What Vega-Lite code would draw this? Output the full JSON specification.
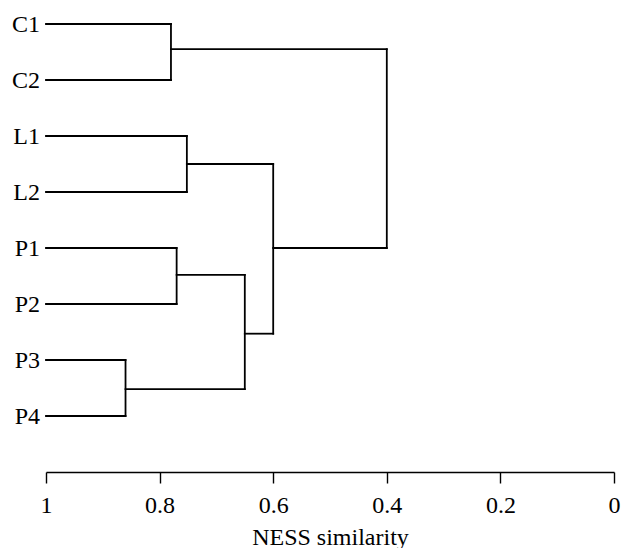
{
  "$schema": "https://vega.github.io/schema/vega-lite/v6.json",
  "autosize": {"type": "none"},
  "padding": {"left": 46, "top": 2, "right": 8, "bottom": 76},
  "width": 568,
  "height": 470,
  "background": "white",
  "config": {"view": {"stroke": null}, "font": "Liberation Serif"},
  "datasets": {
    "segs": [
      {"x": 1, "x2": 0.78, "y": 0, "y2": 0},
      {"x": 1, "x2": 0.78, "y": 1, "y2": 1},
      {"x": 0.78, "x2": 0.78, "y": 0, "y2": 1},
      {"x": 1, "x2": 0.752, "y": 2, "y2": 2},
      {"x": 1, "x2": 0.752, "y": 3, "y2": 3},
      {"x": 0.752, "x2": 0.752, "y": 2, "y2": 3},
      {"x": 1, "x2": 0.77, "y": 4, "y2": 4},
      {"x": 1, "x2": 0.77, "y": 5, "y2": 5},
      {"x": 0.77, "x2": 0.77, "y": 4, "y2": 5},
      {"x": 1, "x2": 0.86, "y": 6, "y2": 6},
      {"x": 1, "x2": 0.86, "y": 7, "y2": 7},
      {"x": 0.86, "x2": 0.86, "y": 6, "y2": 7},
      {"x": 0.77, "x2": 0.65, "y": 4.48, "y2": 4.48},
      {"x": 0.86, "x2": 0.65, "y": 6.52, "y2": 6.52},
      {"x": 0.65, "x2": 0.65, "y": 4.48, "y2": 6.52},
      {"x": 0.65, "x2": 0.6, "y": 5.53, "y2": 5.53},
      {"x": 0.752, "x2": 0.6, "y": 2.5, "y2": 2.5},
      {"x": 0.6, "x2": 0.6, "y": 2.5, "y2": 5.53},
      {"x": 0.6, "x2": 0.4, "y": 4, "y2": 4},
      {"x": 0.78, "x2": 0.4, "y": 0.45, "y2": 0.45},
      {"x": 0.4, "x2": 0.4, "y": 0.45, "y2": 4}
    ],
    "leaves": [
      {"name": "C1", "x": 1, "y": 0},
      {"name": "C2", "x": 1, "y": 1},
      {"name": "L1", "x": 1, "y": 2},
      {"name": "L2", "x": 1, "y": 3},
      {"name": "P1", "x": 1, "y": 4},
      {"name": "P2", "x": 1, "y": 5},
      {"name": "P3", "x": 1, "y": 6},
      {"name": "P4", "x": 1, "y": 7}
    ]
  },
  "layer": [
    {
      "data": {"name": "segs"},
      "mark": {"type": "rule", "color": "black", "strokeWidth": 1.8, "strokeCap": "square"},
      "encoding": {
        "x": {
          "field": "x", "type": "quantitative",
          "scale": {"domain": [0, 1], "reverse": true, "nice": false, "zero": false},
          "axis": {
            "title": "NESS similarity",
            "values": [0, 0.2, 0.4, 0.6, 0.8, 1],
            "format": "~g",
            "grid": false,
            "domainColor": "black",
            "domainWidth": 1.4,
            "tickColor": "black",
            "tickWidth": 1.4,
            "tickSize": 11,
            "labelFont": "Liberation Serif",
            "labelFontSize": 24,
            "labelColor": "black",
            "labelPadding": 10,
            "labelFlush": false,
            "titleFont": "Liberation Serif",
            "titleFontSize": 24,
            "titleFontWeight": "normal",
            "titleColor": "black",
            "titlePadding": 8
          }
        },
        "x2": {"field": "x2"},
        "y": {
          "field": "y", "type": "quantitative",
          "scale": {"domain": [-0.3929, 8], "nice": false, "zero": false, "reverse": true},
          "axis": null
        },
        "y2": {"field": "y2"}
      }
    },
    {
      "data": {"name": "leaves"},
      "mark": {"type": "text", "align": "right", "baseline": "middle", "dx": -6, "dy": 1, "font": "Liberation Serif", "fontSize": 24, "color": "black"},
      "encoding": {
        "x": {"field": "x", "type": "quantitative"},
        "y": {"field": "y", "type": "quantitative"},
        "text": {"field": "name"}
      }
    }
  ]
}
